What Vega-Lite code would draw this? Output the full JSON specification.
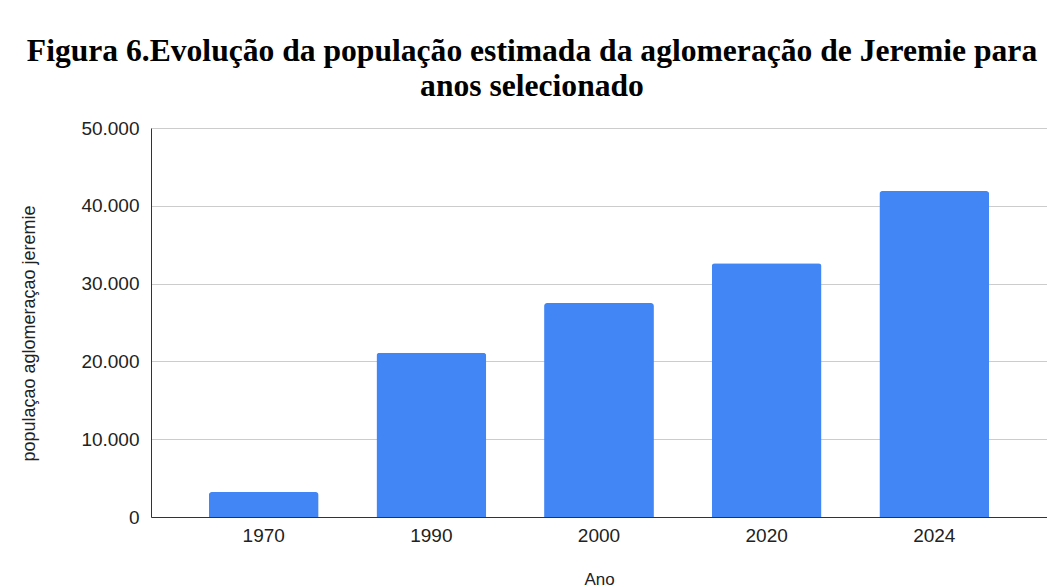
{
  "$schema": "https://vega.github.io/schema/vega-lite/v6.json",
  "width": 896,
  "height": 389,
  "autosize": "none",
  "padding": {"left": 151, "top": 128, "right": 0, "bottom": 70},
  "background": "white",
  "config": {
    "locale": {"number": {"decimal": ",", "thousands": ".", "grouping": [3], "currency": ["", ""]}},
    "view": {"stroke": null},
    "font": "Liberation Sans"
  },
  "title": {
    "text": ["Figura 6.Evolução da população estimada da aglomeração de Jeremie para", "anos selecionado"],
    "font": "Liberation Serif",
    "fontWeight": "bold",
    "fontSize": 31.6,
    "lineHeight": 35,
    "color": "black",
    "anchor": "middle",
    "frame": "group",
    "dx": -67,
    "offset": 16
  },
  "data": {
    "values": [
      {"Ano": "1970", "populacao": 3200},
      {"Ano": "1990", "populacao": 21100},
      {"Ano": "2000", "populacao": 27500},
      {"Ano": "2020", "populacao": 32600},
      {"Ano": "2024", "populacao": 41900}
    ]
  },
  "mark": {"type": "bar", "color": "#4285F4", "cornerRadiusTopLeft": 3, "cornerRadiusTopRight": 3},
  "encoding": {
    "x": {
      "field": "Ano",
      "type": "ordinal",
      "scale": {"paddingInner": 0.345, "paddingOuter": 0.345},
      "axis": {
        "title": "Ano",
        "labelAngle": 0,
        "labelFontSize": 19,
        "labelColor": "#222",
        "labelPadding": 9,
        "ticks": false,
        "domainColor": "#333",
        "titleFontSize": 17,
        "titleFontWeight": "normal",
        "titleColor": "#222",
        "titlePadding": 26
      }
    },
    "y": {
      "field": "populacao",
      "type": "quantitative",
      "scale": {"domain": [0, 50000]},
      "axis": {
        "title": "populaçao aglomeraçao jeremie",
        "values": [0, 10000, 20000, 30000, 40000, 50000],
        "format": ",d",
        "labelFontSize": 19,
        "labelColor": "#222",
        "labelPadding": 12,
        "ticks": false,
        "domainColor": "#333",
        "gridColor": "#cccccc",
        "titleFontSize": 18,
        "titleFontWeight": "normal",
        "titleColor": "#222",
        "titlePadding": 42,
        "titleY": 205,
        "titleAnchor": null
      }
    }
  }
}
